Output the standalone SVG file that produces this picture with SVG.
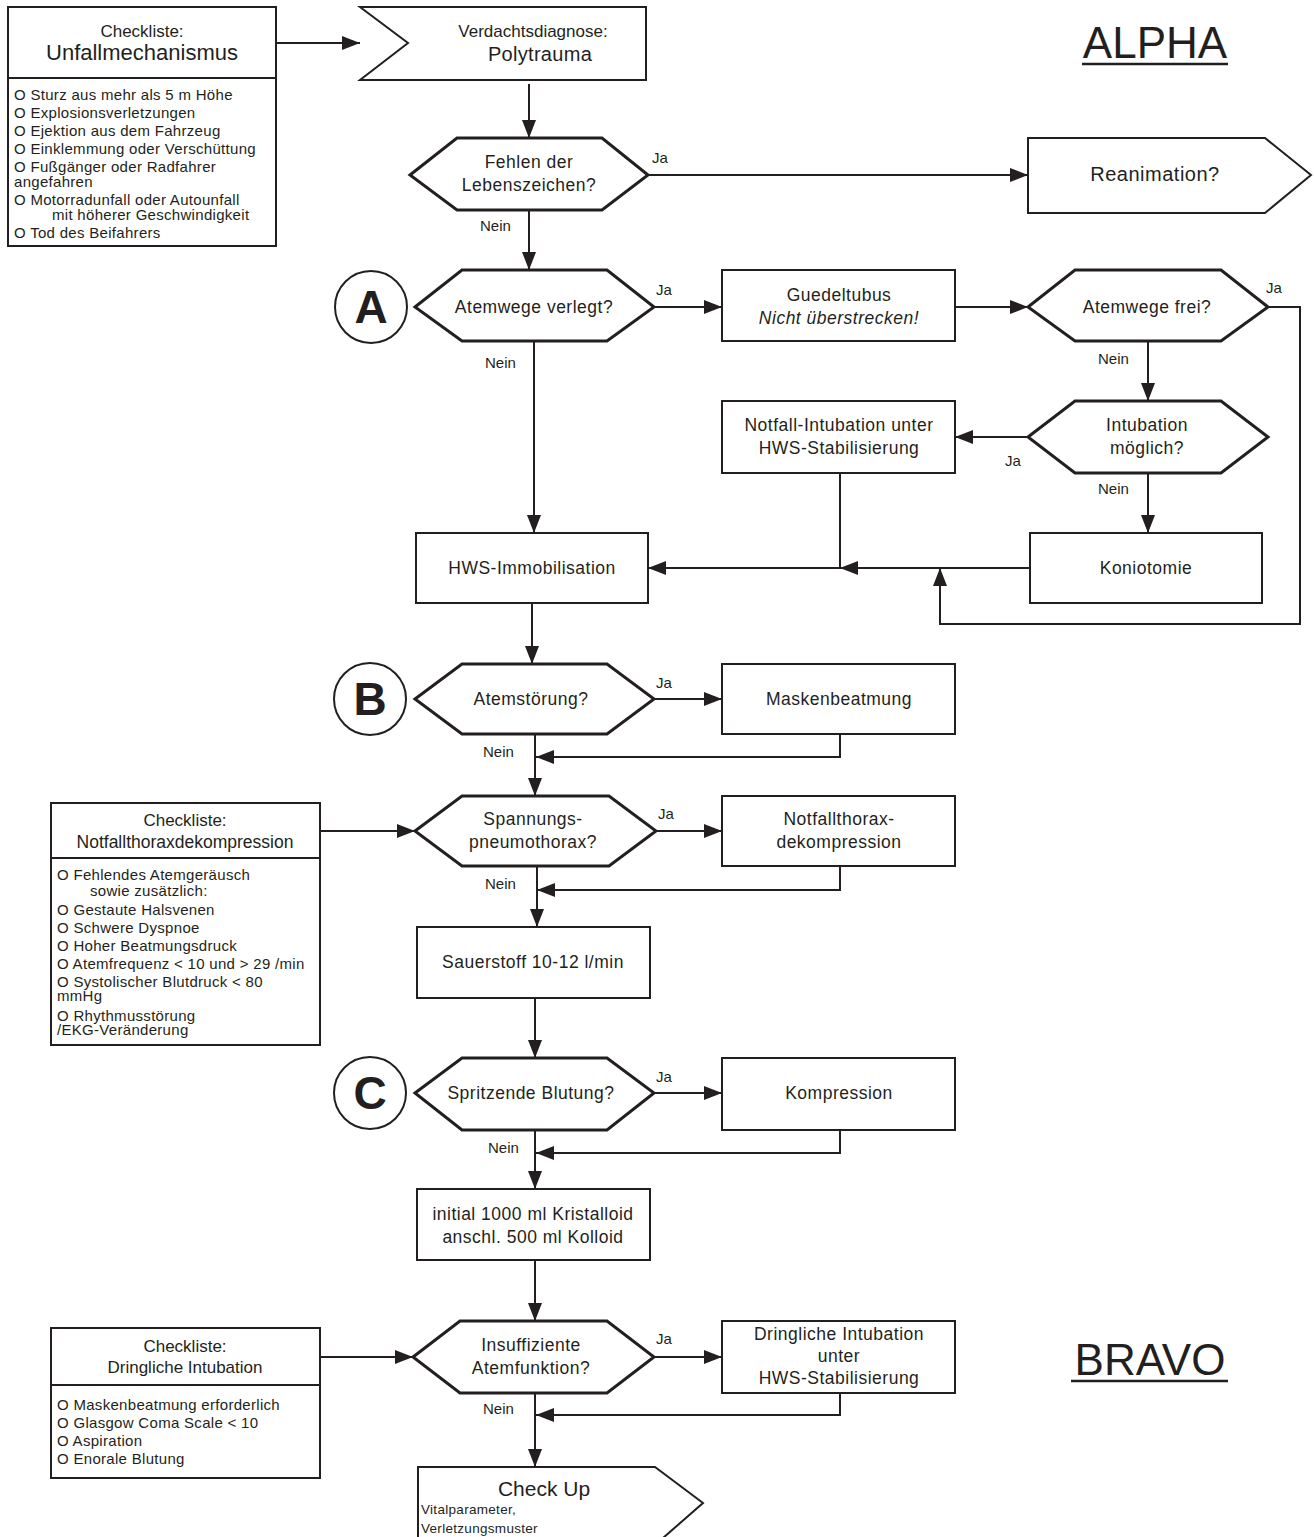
<svg xmlns="http://www.w3.org/2000/svg" width="1314" height="1537" viewBox="0 0 1314 1537">
<defs>
<marker id="ah" viewBox="0 0 18 14" refX="18" refY="7" markerWidth="18" markerHeight="14" markerUnits="userSpaceOnUse" orient="auto"><path d="M0,0 L18,7 L0,14 z" fill="#231f20"/></marker>
<style>
text{font-family:"Liberation Sans",Arial,sans-serif;fill:#231f20}
.box{fill:#fff;stroke:#231f20;stroke-width:2}
.hex{fill:#fff;stroke:#231f20;stroke-width:3;stroke-linejoin:miter}
.ln{fill:none;stroke:#231f20;stroke-width:2}
.ar{fill:none;stroke:#231f20;stroke-width:2;marker-end:url(#ah)}
.lbl{font-size:17.5px;letter-spacing:0.5px;text-anchor:middle}
.yn{font-size:15px}
.it{font-size:15px;letter-spacing:0.3px}
.ct{font-size:17px;text-anchor:middle}
.circ{fill:#fff;stroke:#231f20;stroke-width:2}
.cl{font-size:46px;font-weight:bold;text-anchor:middle}
.ttl{font-size:44px;text-anchor:middle}
</style>
</defs>
<rect width="1314" height="1537" fill="#fff"/>

<g id="connectors">
<path class="ar" d="M276,43 H360"/>
<path class="ar" d="M529,84 V138"/>
<path class="ar" d="M648,175 H1028"/>
<path class="ar" d="M529,210 V270"/>
<path class="ar" d="M654,307 H722"/>
<path class="ar" d="M534,341 V533"/>
<path class="ar" d="M955,307 H1028"/>
<path class="ar" d="M1148,341 V401"/>
<path class="ar" d="M1028,437 H955"/>
<path class="ar" d="M1148,473 V533"/>
<path class="ln" d="M840,473 V568"/>
<path class="ar" d="M1030,568 H840"/>
<path class="ar" d="M840,568 H648"/>
<path class="ar" d="M1268,307 H1300 V624 H940 V568"/>
<path class="ar" d="M532,603 V664"/>
<path class="ar" d="M654,699 H722"/>
<path class="ar" d="M840,734 V757 H536"/>
<path class="ar" d="M535,734 V796"/>
<path class="ar" d="M320,831 H415"/>
<path class="ar" d="M656,831 H722"/>
<path class="ar" d="M840,866 V890 H537"/>
<path class="ar" d="M537,866 V927"/>
<path class="ar" d="M535,998 V1058"/>
<path class="ar" d="M654,1093 H722"/>
<path class="ar" d="M840,1130 V1153 H536"/>
<path class="ar" d="M535,1130 V1189"/>
<path class="ar" d="M535,1260 V1321"/>
<path class="ar" d="M320,1357 H413"/>
<path class="ar" d="M654,1357 H722"/>
<path class="ar" d="M840,1393 V1415 H536"/>
<path class="ar" d="M535,1393 V1467"/>
</g>

<g id="labels">
<text class="yn" x="652" y="163">Ja</text>
<text class="yn" x="480" y="231">Nein</text>
<text class="yn" x="656" y="295">Ja</text>
<text class="yn" x="485" y="368">Nein</text>
<text class="yn" x="1266" y="293">Ja</text>
<text class="yn" x="1098" y="364">Nein</text>
<text class="yn" x="1005" y="466">Ja</text>
<text class="yn" x="1098" y="494">Nein</text>
<text class="yn" x="656" y="688">Ja</text>
<text class="yn" x="483" y="757">Nein</text>
<text class="yn" x="658" y="819">Ja</text>
<text class="yn" x="485" y="889">Nein</text>
<text class="yn" x="656" y="1082">Ja</text>
<text class="yn" x="488" y="1153">Nein</text>
<text class="yn" x="656" y="1344">Ja</text>
<text class="yn" x="483" y="1414">Nein</text>
</g>

<g id="checklist-unfall">
<rect class="box" x="8" y="7" width="268" height="239"/>
<line class="ln" x1="8" y1="78" x2="276" y2="78"/>
<text class="ct" x="142" y="37">Checkliste:</text>
<text x="142" y="60" style="font-size:22px;text-anchor:middle">Unfallmechanismus</text>
<text class="it" x="14" y="100">O Sturz aus mehr als 5 m Höhe</text>
<text class="it" x="14" y="118">O Explosionsverletzungen</text>
<text class="it" x="14" y="136">O Ejektion aus dem Fahrzeug</text>
<text class="it" x="14" y="154">O Einklemmung  oder  Verschüttung</text>
<text class="it" x="14" y="172">O Fußgänger oder Radfahrer</text>
<text class="it" x="14" y="187">angefahren</text>
<text class="it" x="14" y="205">O Motorradunfall  oder  Autounfall</text>
<text class="it" x="52" y="220">mit höherer Geschwindigkeit</text>
<text class="it" x="14" y="238">O Tod des Beifahrers</text>
</g>

<g id="polytrauma">
<path class="box" d="M360,7 H646 V80 H360 L408,43 Z"/>
<text x="533" y="37" style="font-size:17px;text-anchor:middle">Verdachtsdiagnose:</text>
<text x="540" y="61" style="font-size:20px;text-anchor:middle;letter-spacing:0.3px">Polytrauma</text>
</g>

<g id="alpha">
<text class="ttl" x="1155" y="58">ALPHA</text>
<line x1="1082" y1="64" x2="1228" y2="64" stroke="#231f20" stroke-width="2.5"/>
</g>

<g id="fehlen">
<path class="hex" d="M410,175 L457,138 H602 L648,175 L602,210 H457 Z"/>
<text class="lbl" x="529" y="168">Fehlen der</text>
<text class="lbl" x="529" y="191">Lebenszeichen?</text>
</g>

<g id="reanimation">
<path class="box" d="M1028,138 H1265 L1311,175 L1265,213 H1028 Z"/>
<text x="1155" y="181" style="font-size:20px;text-anchor:middle;letter-spacing:0.5px">Reanimation?</text>
</g>

<g id="circle-a">
<circle class="circ" cx="371" cy="307" r="36"/>
<text class="cl" x="371" y="323">A</text>
</g>

<g id="atemwege-verlegt">
<path class="hex" d="M415,307 L462,270 H607 L654,307 L607,341 H462 Z"/>
<text class="lbl" x="534" y="313">Atemwege  verlegt?</text>
</g>

<g id="guedeltubus">
<rect class="box" x="722" y="270" width="233" height="71"/>
<text class="lbl" x="839" y="301">Guedeltubus</text>
<text class="lbl" x="839" y="324" style="font-style:italic">Nicht überstrecken!</text>
</g>

<g id="atemwege-frei">
<path class="hex" d="M1028,307 L1075,270 H1221 L1268,307 L1221,341 H1075 Z"/>
<text class="lbl" x="1147" y="313">Atemwege  frei?</text>
</g>

<g id="intubation-moeglich">
<path class="hex" d="M1028,437 L1075,401 H1221 L1268,437 L1221,473 H1075 Z"/>
<text class="lbl" x="1147" y="431">Intubation</text>
<text class="lbl" x="1147" y="454">möglich?</text>
</g>

<g id="notfall-intubation">
<rect class="box" x="722" y="401" width="233" height="72"/>
<text class="lbl" x="839" y="431">Notfall-Intubation  unter</text>
<text class="lbl" x="839" y="454">HWS-Stabilisierung</text>
</g>

<g id="koniotomie">
<rect class="box" x="1030" y="533" width="232" height="70"/>
<text class="lbl" x="1146" y="574">Koniotomie</text>
</g>

<g id="hws-immobilisation">
<rect class="box" x="416" y="533" width="232" height="70"/>
<text class="lbl" x="532" y="574">HWS-Immobilisation</text>
</g>

<g id="circle-b">
<circle class="circ" cx="370" cy="699" r="36"/>
<text class="cl" x="370" y="715">B</text>
</g>

<g id="atemstoerung">
<path class="hex" d="M415,699 L462,664 H607 L654,699 L607,734 H462 Z"/>
<text class="lbl" x="531" y="705">Atemstörung?</text>
</g>

<g id="maskenbeatmung">
<rect class="box" x="722" y="664" width="233" height="70"/>
<text class="lbl" x="839" y="705">Maskenbeatmung</text>
</g>

<g id="checklist-thorax">
<rect class="box" x="51" y="803" width="269" height="242"/>
<line class="ln" x1="51" y1="858" x2="320" y2="858"/>
<text class="ct" x="185" y="826">Checkliste:</text>
<text x="185" y="848" style="font-size:17.5px;text-anchor:middle">Notfallthoraxdekompression</text>
<text class="it" x="57" y="880">O Fehlendes  Atemgeräusch</text>
<text class="it" x="90" y="896">sowie zusätzlich:</text>
<text class="it" x="57" y="915">O Gestaute  Halsvenen</text>
<text class="it" x="57" y="933">O Schwere  Dyspnoe</text>
<text class="it" x="57" y="951">O Hoher  Beatmungsdruck</text>
<text class="it" x="57" y="969">O Atemfrequenz  &lt;  10  und  &gt;  29  /min</text>
<text class="it" x="57" y="987">O Systolischer  Blutdruck  &lt;  80</text>
<text class="it" x="57" y="1001">mmHg</text>
<text class="it" x="57" y="1021">O Rhythmusstörung</text>
<text class="it" x="57" y="1035">/EKG-Veränderung</text>
</g>

<g id="spannungspneumothorax">
<path class="hex" d="M415,831 L462,796 H609 L656,831 L609,866 H462 Z"/>
<text class="lbl" x="533" y="825">Spannungs-</text>
<text class="lbl" x="533" y="848">pneumothorax?</text>
</g>

<g id="notfallthoraxdekompression">
<rect class="box" x="722" y="796" width="233" height="70"/>
<text class="lbl" x="839" y="825">Notfallthorax-</text>
<text class="lbl" x="839" y="848">dekompression</text>
</g>

<g id="sauerstoff">
<rect class="box" x="417" y="927" width="233" height="71"/>
<text class="lbl" x="533" y="968">Sauerstoff  10-12  l/min</text>
</g>

<g id="circle-c">
<circle class="circ" cx="370" cy="1093" r="36"/>
<text class="cl" x="370" y="1109">C</text>
</g>

<g id="spritzende-blutung">
<path class="hex" d="M415,1093 L462,1058 H607 L654,1093 L607,1130 H462 Z"/>
<text class="lbl" x="531" y="1099">Spritzende  Blutung?</text>
</g>

<g id="kompression">
<rect class="box" x="722" y="1058" width="233" height="72"/>
<text class="lbl" x="839" y="1099">Kompression</text>
</g>

<g id="infusion">
<rect class="box" x="417" y="1189" width="233" height="71"/>
<text class="lbl" x="533" y="1220">initial  1000  ml  Kristalloid</text>
<text class="lbl" x="533" y="1243">anschl.  500  ml  Kolloid</text>
</g>

<g id="checklist-intubation">
<rect class="box" x="51" y="1328" width="269" height="150"/>
<line class="ln" x1="51" y1="1385" x2="320" y2="1385"/>
<text class="ct" x="185" y="1352">Checkliste:</text>
<text class="ct" x="185" y="1373">Dringliche  Intubation</text>
<text class="it" x="57" y="1410">O Maskenbeatmung  erforderlich</text>
<text class="it" x="57" y="1428">O Glasgow  Coma  Scale  &lt;  10</text>
<text class="it" x="57" y="1446">O Aspiration</text>
<text class="it" x="57" y="1464">O Enorale  Blutung</text>
</g>

<g id="insuffiziente-atemfunktion">
<path class="hex" d="M413,1357 L460,1321 H607 L654,1357 L607,1393 H460 Z"/>
<text class="lbl" x="531" y="1351">Insuffiziente</text>
<text class="lbl" x="531" y="1374">Atemfunktion?</text>
</g>

<g id="dringliche-intubation">
<rect class="box" x="722" y="1321" width="233" height="72"/>
<text class="lbl" x="839" y="1340">Dringliche  Intubation</text>
<text class="lbl" x="839" y="1362">unter</text>
<text class="lbl" x="839" y="1384">HWS-Stabilisierung</text>
</g>

<g id="bravo">
<text class="ttl" x="1150" y="1375">BRAVO</text>
<line x1="1071" y1="1381" x2="1228" y2="1381" stroke="#231f20" stroke-width="2.5"/>
</g>

<g id="check-up">
<path class="box" d="M418,1545 V1467 H655 L703,1503 L655,1545"/>
<text x="544" y="1496" style="font-size:21px;text-anchor:middle">Check Up</text>
<text x="421" y="1514" style="font-size:13.5px;letter-spacing:0.3px">Vitalparameter,</text>
<text x="421" y="1533" style="font-size:13.5px;letter-spacing:0.3px">Verletzungsmuster</text>
</g>
</svg>
